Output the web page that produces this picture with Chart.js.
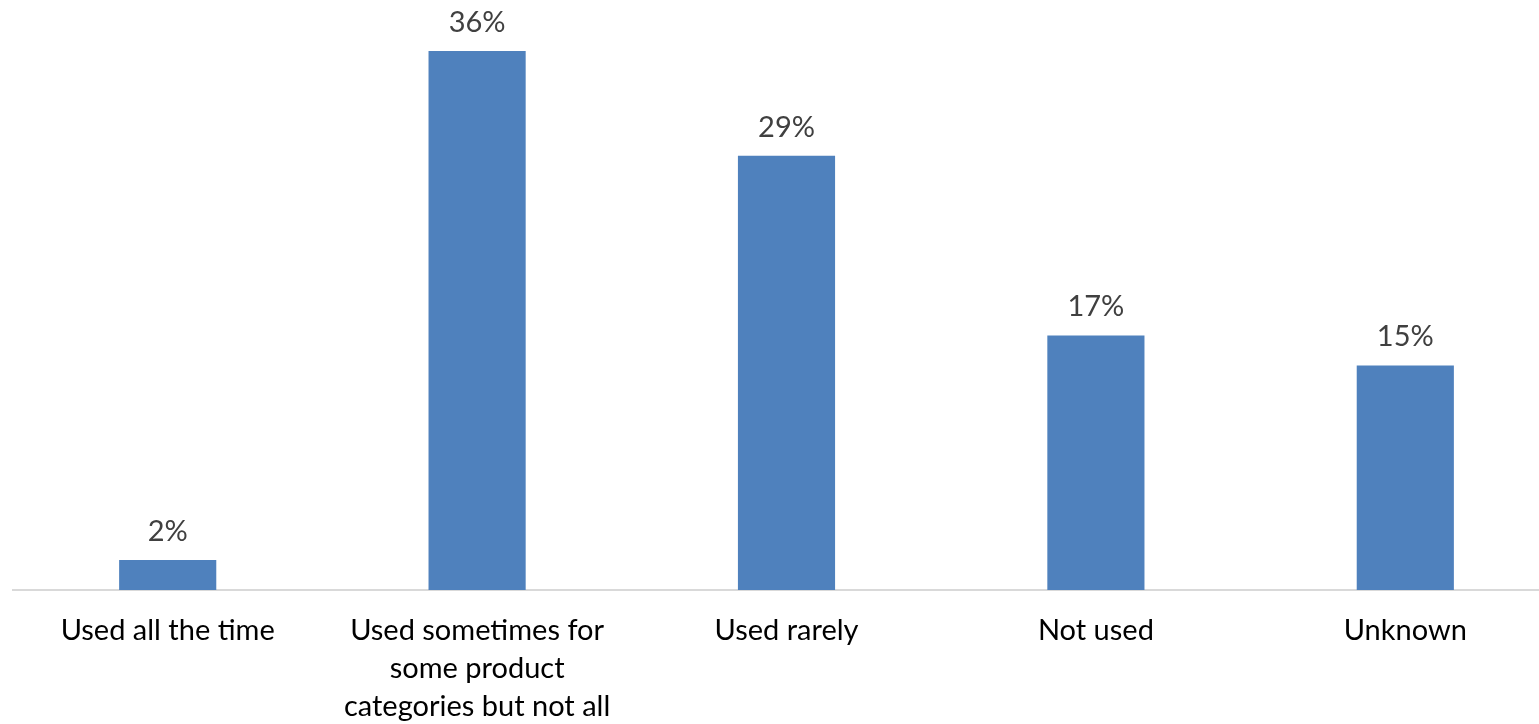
<!DOCTYPE html>
<html>
<head>
<meta charset="utf-8">
<script src="https://cdn.jsdelivr.net/npm/chart.js@4.4.1/dist/chart.umd.min.js"></script>
<style>
  html, body { margin: 0; padding: 0; background: #ffffff; overflow: hidden; }
  #wrap { width: 1539px; height: 724px; position: relative; overflow: hidden; }
  #c { position: absolute; left: 0; top: 0; }
</style>
</head>
<body>
<div id="wrap"><canvas id="c" width="1580" height="748"></canvas></div>
<script>
const categories = [
  "Used all the time",
  ["Used sometimes for", "some product", "categories but not all"],
  "Used rarely",
  "Not used",
  "Unknown"
];
const values = [2, 36, 29, 17, 15];
const valueSuffix = "%";

const FONT = "Lato, 'Open Sans', sans-serif";

const dataLabels = {
  id: 'dataLabels',
  afterDatasetsDraw(chart) {
    const ctx = chart.ctx;
    const meta = chart.getDatasetMeta(0);
    ctx.save();
    ctx.font = "29px " + FONT;
    ctx.fillStyle = "#404040";
    ctx.textAlign = "center";
    ctx.textBaseline = "alphabetic";
    meta.data.forEach((el, i) => {
      ctx.fillText(values[i] + valueSuffix, el.x, el.y - 19);
    });
    ctx.restore();
  }
};

new Chart(document.getElementById('c'), {
  type: 'bar',
  data: {
    labels: categories,
    datasets: [{
      data: values,
      backgroundColor: '#4F81BD',
      borderWidth: 0,
      categoryPercentage: 1.0,
      barPercentage: 0.314
    }]
  },
  options: {
    responsive: false,
    animation: false,
    layout: { padding: { left: 13, right: 20, top: 51, bottom: 0 } },
    plugins: { legend: { display: false }, tooltip: { enabled: false } },
    scales: {
      x: {
        grid: { display: false, drawTicks: false },
        border: { display: true, color: '#d9d9d9', width: 2 },
        ticks: {
          color: '#000000',
          font: { family: FONT, size: 29, lineHeight: 1.31 },
          padding: 22,
          maxRotation: 0,
          autoSkip: false
        }
      },
      y: {
        display: false,
        min: 0,
        max: 36
      }
    }
  },
  plugins: [dataLabels]
});
</script>
</body>
</html>
